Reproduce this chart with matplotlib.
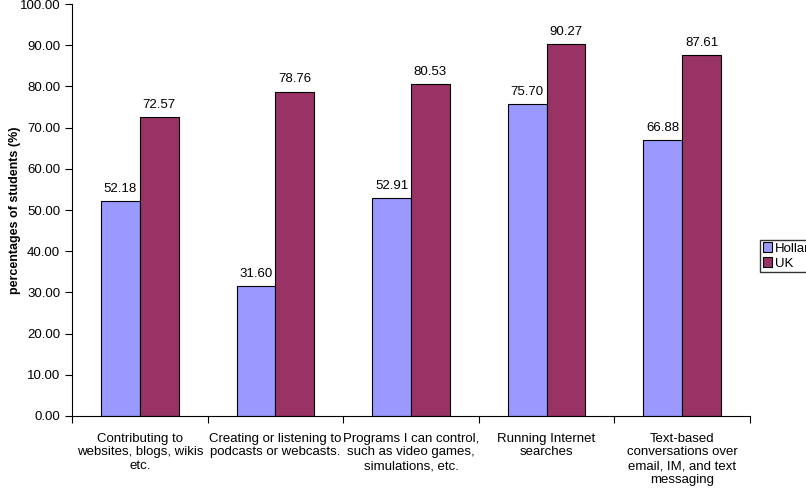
import numpy as np
import matplotlib.pyplot as plt

plt.rcParams['font.family'] = ['Liberation Sans', 'DejaVu Sans']

categories = ["Contributing to\nwebsites, blogs, wikis\netc.",
              "Creating or listening to\npodcasts or webcasts.",
              "Programs I can control,\nsuch as video games,\nsimulations, etc.",
              "Running Internet\nsearches",
              "Text-based\nconversations over\nemail, IM, and text\nmessaging"]
holland = [52.18, 31.60, 52.91, 75.70, 66.88]
uk = [72.57, 78.76, 80.53, 90.27, 87.61]

fig = plt.figure(figsize=(8.06, 4.94), dpi=100)
ax = fig.add_axes([72/806, 1-416/494, (750-72)/806, 412/494])

x = np.arange(len(categories))
w = 1/3.5
b1 = ax.bar(x - w/2, holland, w, color='#9999FF', edgecolor='black', linewidth=0.8, label='Holland')
b2 = ax.bar(x + w/2, uk, w, color='#993366', edgecolor='black', linewidth=0.8, label='UK')

for bars in (b1, b2):
    for r in bars:
        h = r.get_height()
        ax.text(r.get_x() + r.get_width()/2, h + 1.5, f"{h:.2f}",
                ha='center', va='bottom', fontsize=9.5)

ax.set_xlim(-0.5, len(categories) - 0.5)
ax.set_ylim(0, 100)
ax.set_yticks(np.arange(0, 101, 10))
ax.set_yticklabels([f"{v:.2f}" for v in np.arange(0, 101, 10)], fontsize=9.5)
ax.set_xticks(np.arange(-0.5, len(categories), 1))
ax.set_xticklabels([])
ax.set_xticks(x, minor=True)
ax.set_xticklabels(categories, minor=True, fontsize=9.5, va='top', ha='center')
ax.tick_params(axis='x', which='minor', length=0, pad=12)
ax.tick_params(axis='x', which='major', length=5, direction='out')
ax.tick_params(axis='y', length=5, direction='out')
ax.spines['top'].set_visible(False)
ax.spines['right'].set_visible(False)
ax.set_ylabel("percentages of students (%)", fontsize=9, fontweight='bold')
ax.yaxis.set_label_coords(-0.075, 0.5)

fig.legend(loc='center left', bbox_to_anchor=(760/806, 1-256/494), fontsize=9.5,
           frameon=True, fancybox=False, edgecolor='black', handlelength=0.7,
           handleheight=0.7, handletextpad=0.25, borderpad=0.2, labelspacing=0.2,
           borderaxespad=0)

fig.savefig('out.png', dpi=100)
